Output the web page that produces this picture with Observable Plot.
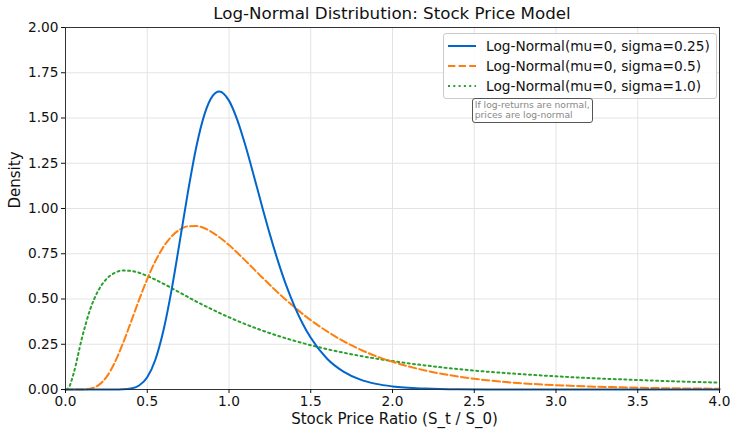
<!DOCTYPE html>
<html><head><meta charset="utf-8">
<script src="https://cdn.jsdelivr.net/npm/d3@7"></script>
<script src="https://cdn.jsdelivr.net/npm/@observablehq/plot@0.6"></script>
<style>
body{margin:0;background:#fff;font-family:"DejaVu Sans",sans-serif;}
#wrap{position:relative;width:733px;height:430px;overflow:hidden;}
#title{position:absolute;left:65px;width:654px;top:3px;text-align:center;font-size:16.7px;color:#111;line-height:20px;}
#legend{position:absolute;background:rgba(255,255,255,0.85);border:1px solid #ccc;border-radius:3px;padding:2px 6px 2px 3px;font-size:13.7px;color:#111;}
.row{display:flex;align-items:center;height:20px;}
.row svg{margin-right:9px;}
#note{position:absolute;border:1px solid #555;border-radius:3px;background:#fff;padding:1px 2px;font-size:9.2px;line-height:10.5px;color:#888;white-space:nowrap;}
</style></head><body><div id="wrap"></div>
<script>
const titleText = "Log-Normal Distribution: Stock Price Model";
const xLabel = "Stock Price Ratio (S_t / S_0)";
const yLabel = "Density";
const seriesNames = ["Log-Normal(mu=0, sigma=0.25)", "Log-Normal(mu=0, sigma=0.5)", "Log-Normal(mu=0, sigma=1.0)"];
const seriesColors = ["#0066cc", "#ff7f0e", "#2ca02c"];
const xTicks = [0, 0.5, 1, 1.5, 2, 2.5, 3, 3.5, 4];
const yTicks = [0, 0.25, 0.5, 0.75, 1, 1.25, 1.5, 1.75, 2];
const noteText = "If log-returns are normal,\nprices are log-normal";
const noteX = [2.5];
const noteY = [1.5];

const xs025 = [0, 0.3, 0.35, 0.4, 0.45, 0.5, 0.55, 0.6, 0.65, 0.7, 0.75, 0.8, 0.85, 0.9, 0.94, 1.0, 1.05, 1.1, 1.15, 1.2, 1.25, 1.3, 1.35, 1.4, 1.45, 1.5, 1.6, 1.7, 1.8, 1.9, 2.0, 2.2, 2.4, 2.6, 2.8, 3.0, 3.5, 4.0];
const ys025 = [0, 0, 0.001, 0.005, 0.022, 0.068, 0.166, 0.330, 0.556, 0.824, 1.097, 1.340, 1.520, 1.622, 1.647, 1.596, 1.491, 1.349, 1.187, 1.019, 0.857, 0.708, 0.575, 0.461, 0.365, 0.286, 0.170, 0.099, 0.056, 0.031, 0.017, 0.005, 0.001, 0.0004, 0.0001, 0, 0, 0];

const xs05 = [0, 0.1, 0.15, 0.2, 0.25, 0.3, 0.35, 0.4, 0.45, 0.5, 0.55, 0.6, 0.65, 0.7, 0.75, 0.8, 0.85, 0.9, 1.0, 1.1, 1.2, 1.3, 1.4, 1.5, 1.6, 1.7, 1.8, 1.9, 2.0, 2.2, 2.4, 2.6, 2.8, 3.0, 3.2, 3.4, 3.6, 3.8, 4.0];
const ys05 = [0, 0.0002, 0.004, 0.023, 0.068, 0.147, 0.252, 0.372, 0.495, 0.610, 0.710, 0.789, 0.847, 0.884, 0.902, 0.903, 0.891, 0.867, 0.798, 0.712, 0.622, 0.535, 0.455, 0.383, 0.321, 0.267, 0.222, 0.184, 0.153, 0.105, 0.072, 0.049, 0.034, 0.024, 0.017, 0.012, 0.008, 0.006, 0.004];

const xs10 = [0.005, 0.02, 0.05, 0.1, 0.15, 0.2, 0.25, 0.3, 0.35, 0.4, 0.45, 0.5, 0.6, 0.7, 0.8, 0.9, 1.0, 1.2, 1.4, 1.6, 1.8, 2.0, 2.2, 2.4, 2.6, 2.8, 3.0, 3.2, 3.4, 3.6, 3.8, 4.0];
const ys10 = [0, 0.010, 0.090, 0.282, 0.440, 0.546, 0.610, 0.644, 0.657, 0.655, 0.645, 0.627, 0.584, 0.535, 0.486, 0.441, 0.399, 0.327, 0.269, 0.223, 0.186, 0.157, 0.133, 0.113, 0.097, 0.084, 0.073, 0.063, 0.056, 0.049, 0.043, 0.038];

const toRows = (xs, ys) => xs.map((x, i) => ({x, y: ys[i]}));
const s1 = toRows(xs025, ys025), s2 = toRows(xs05, ys05), s3 = toRows(xs10, ys10);
const dashes = [null, "7.4,3.2", "2,3.3"];

const plot = Plot.plot({
  width: 733, height: 430,
  marginLeft: 65, marginRight: 14, marginTop: 27, marginBottom: 41,
  style: {fontFamily: "DejaVu Sans, sans-serif", fontSize: "13.7px", color: "#111", background: "#fff", overflow: "visible"},
  x: {domain: [0, 4]},
  y: {domain: [0, 2]},
  marks: [
    Plot.gridX(xTicks, {stroke: "#e3e3e3", strokeOpacity: 1}),
    Plot.gridY(yTicks, {stroke: "#e3e3e3", strokeOpacity: 1}),
    Plot.line(s3, {x: "x", y: "y", stroke: seriesColors[2], strokeWidth: 2, strokeDasharray: dashes[2], curve: "monotone-x"}),
    Plot.line(s2, {x: "x", y: "y", stroke: seriesColors[1], strokeWidth: 2, strokeDasharray: dashes[1], curve: "monotone-x"}),
    Plot.line(s1, {x: "x", y: "y", stroke: seriesColors[0], strokeWidth: 2, curve: "monotone-x"}),
    Plot.frame({stroke: "#333", strokeWidth: 1}),
    Plot.axisX({ticks: xTicks, tickFormat: d3.format(".1f"), tickSize: 4, tickPadding: 3, label: null, fontSize: 13.7}),
    Plot.axisY({ticks: yTicks, tickFormat: d3.format(".2f"), tickSize: 4, tickPadding: 3, label: null, fontSize: 13.7}),
    Plot.text([xLabel], {text: d => d, frameAnchor: "bottom", lineAnchor: "middle", dx: 2, dy: 30, fontSize: 15, fill: "#111"}),
    Plot.text([yLabel], {text: d => d, frameAnchor: "left", lineAnchor: "middle", rotate: -90, dx: -50, fontSize: 15, fill: "#111"})
  ]
});
const wrap = document.getElementById("wrap");
wrap.appendChild(plot);

const title = document.createElement("div");
title.id = "title"; title.textContent = titleText;
wrap.appendChild(title);

const legend = document.createElement("div");
legend.id = "legend";
legend.style.left = "443px"; legend.style.top = "33px";
seriesNames.forEach((name, i) => {
  const row = document.createElement("div");
  row.className = "row";
  row.innerHTML = `<svg width="30" height="10"><line x1="1" x2="29" y1="5" y2="5" stroke="${seriesColors[i]}" stroke-width="2" ${dashes[i] ? `stroke-dasharray="${dashes[i]}"` : ""}/></svg><span>${name}</span>`;
  legend.appendChild(row);
});
wrap.appendChild(legend);

const sx = plot.scale("x"), sy = plot.scale("y");
const note = document.createElement("div");
note.id = "note";
note.innerHTML = noteText.replace("\n", "<br>");
note.style.left = (sx.apply(noteX[0]) - 2) + "px";
note.style.top = (sy.apply(noteY[0]) - 20) + "px";
wrap.appendChild(note);
</script></body></html>
